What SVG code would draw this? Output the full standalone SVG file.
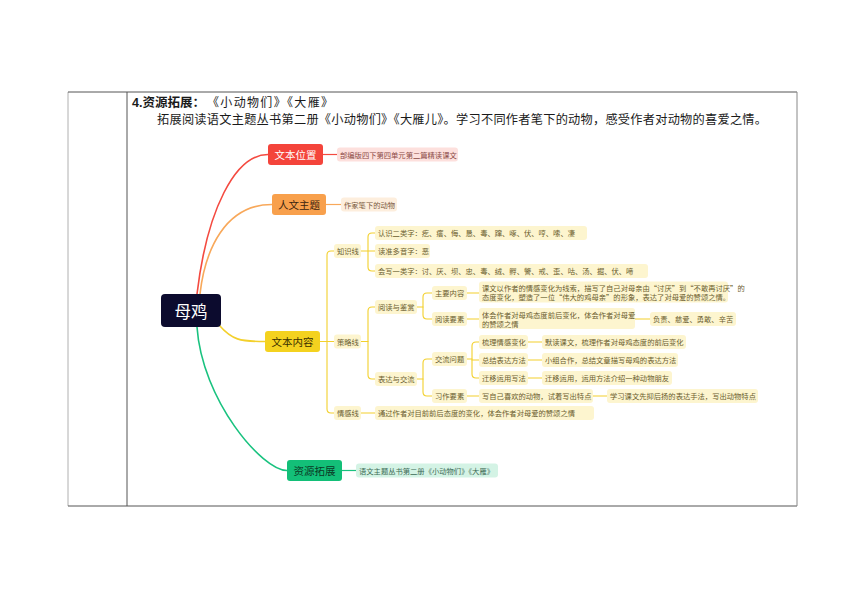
<svg xmlns="http://www.w3.org/2000/svg" width="860" height="608" viewBox="0 0 860 608">
<style>
  .hd{font-family:"Liberation Serif","Noto Sans CJK SC",serif;fill:#1a1a1a}
  .nd{font-family:"Noto Sans CJK SC","Noto Sans",sans-serif;font-size:10.5px;text-anchor:middle;dominant-baseline:central}
  .pt{font-family:"Noto Sans CJK SC","Noto Sans",sans-serif;font-size:7.3px;dominant-baseline:central;fill:#6b5d2e}
  .py{fill:#fdf5cf}
  .ly{fill:none;stroke:#f3d02c;stroke-width:1.1;stroke-linecap:round;stroke-linejoin:round}
  .main{fill:none;stroke-width:1.6;stroke-linecap:round}
</style>
<rect width="860" height="608" fill="#ffffff"/>

<g id="table" fill="none" stroke-width="1">
  <line x1="68" y1="92" x2="68" y2="506" stroke="#b0b0b0"/>
  <line x1="68" y1="92" x2="797" y2="92" stroke="#555"/>
  <line x1="68" y1="506" x2="797" y2="506" stroke="#555"/>
  <line x1="127" y1="92" x2="127" y2="506" stroke="#555"/>
  <line x1="797" y1="92" x2="797" y2="506" stroke="#888"/>
</g>

<g id="header">
  <text class="hd" x="132" y="107" font-size="12.5"><tspan font-weight="bold" font-family="Liberation Sans,Noto Sans CJK SC,sans-serif">4.资源拓展：</tspan><tspan x="207" font-size="12" textLength="126" lengthAdjust="spacing">《小动物们》《大雁》</tspan></text>
  <text class="hd" x="157" y="124" font-size="12.2" textLength="610" lengthAdjust="spacing">拓展阅读语文主题丛书第二册《小动物们》《大雁儿》。学习不同作者笔下的动物，感受作者对动物的喜爱之情。</text>
</g>

<g id="connectors">
  <path class="main" stroke="#f44a40" d="M197,294 C207,210 235,154.5 268,154.5"/>
  <path class="main" stroke="#f8a85a" d="M200,294 C205,250 225,204.5 272,204.5"/>
  <path class="main" stroke="#f3d02c" d="M219,325 C232,340 240,341.5 265,341.5"/>
  <path class="main" stroke="#19c27f" d="M197,327 C202,400 262,470.5 287,470.5"/>
  <path fill="none" stroke="#f44a40" stroke-width="1.2" d="M323,154.5 H337"/>
  <path fill="none" stroke="#f8a85a" stroke-width="1.2" d="M326,204.5 H341"/>
  <path fill="none" stroke="#19c27f" stroke-width="1.2" d="M342,470.5 H356"/>
  <path class="ly" d="M320,341.5 H334"/>
  <path class="ly" d="M334,251 H331 Q327,251 327,255 V409 Q327,413 331,413 H334"/>
  <path class="ly" d="M361,251 H375"/>
  <path class="ly" d="M375,233 H372 Q368,233 368,237 V267 Q368,271 372,271 H375"/>
  <path class="ly" d="M361,341.5 H368"/>
  <path class="ly" d="M375,307 H372 Q368,307 368,311 V375 Q368,379 372,379 H375"/>
  <path class="ly" d="M417,307 H423"/>
  <path class="ly" d="M432,293 H427 Q423,293 423,297 V315 Q423,319 427,319 H432"/>
  <path class="ly" d="M467,293 H479"/>
  <path class="ly" d="M467,319 H479"/>
  <path class="ly" d="M635,319 H650"/>
  <path class="ly" d="M417,379 H423"/>
  <path class="ly" d="M432,359 H427 Q423,359 423,363 V392 Q423,396 427,396 H432"/>
  <path class="ly" d="M467,359 H472"/>
  <path class="ly" d="M479,342 H476 Q472,342 472,346 V374 Q472,378 476,378 H479"/>
  <path class="ly" d="M472,360 H479"/>
  <path class="ly" d="M528,342 H542"/>
  <path class="ly" d="M528,360 H542"/>
  <path class="ly" d="M528,378 H542"/>
  <path class="ly" d="M467,396 H479"/>
  <path class="ly" d="M593,396 H607"/>
  <path class="ly" d="M361,413 H375"/>
</g>

<g id="n-root">
  <rect x="161" y="294" width="60" height="33" rx="4" fill="#0c0b2e"/>
  <text class="nd" x="191" y="310.5" style="font-size:16.5px;fill:#ffffff">母鸡</text>
</g>

<g id="n-position">
  <rect x="268" y="144" width="55" height="21" rx="3" fill="#f4443b"/>
  <text class="nd" x="295.5" y="154.5" style="fill:#ffffff">文本位置</text>
  <rect x="337" y="147.5" width="121" height="14" rx="3" fill="#fde0dd"/>
  <text class="pt" x="340" y="154.5" style="fill:#8b4a45">部编版四下第四单元第二篇精读课文</text>
</g>

<g id="n-theme">
  <rect x="272" y="194" width="54" height="21" rx="3" fill="#f8a04c"/>
  <text class="nd" x="299" y="204.5" style="fill:#3b2410">人文主题</text>
  <rect x="341" y="197.5" width="56" height="14" rx="3" fill="#fdeedd"/>
  <text class="pt" x="344" y="204.5" style="fill:#7a5a3e">作家笔下的动物</text>
</g>

<g id="n-content">
  <rect x="265" y="331" width="55" height="21" rx="3" fill="#f4d21f"/>
  <text class="nd" x="292.5" y="341.5" style="fill:#3a3000">文本内容</text>
</g>

<g id="n-knowledge">
  <rect class="py" x="334" y="244" width="27" height="14" rx="3"/>
  <text class="pt" x="337" y="251">知识线</text>
  <rect class="py" x="375" y="226" width="212" height="14" rx="3"/>
  <text class="pt" x="378" y="233">认识二类字：疙、瘩、侮、恳、毒、蹿、啄、伏、哼、嗦、凄</text>
  <rect class="py" x="375" y="244" width="55" height="14" rx="3"/>
  <text class="pt" x="378" y="251">读准多音字：恶</text>
  <rect class="py" x="375" y="264" width="273" height="14" rx="3"/>
  <text class="pt" x="378" y="271">会写一类字：讨、厌、坝、忠、毒、绒、孵、警、戒、歪、咕、汤、掘、伏、啼</text>
</g>

<g id="n-strategy">
  <rect class="py" x="334" y="334.5" width="27" height="14" rx="3"/>
  <text class="pt" x="337" y="341.5">策略线</text>
</g>

<g id="n-reading">
  <rect class="py" x="375" y="300" width="42" height="14" rx="3"/>
  <text class="pt" x="378" y="307">阅读与鉴赏</text>
  <rect class="py" x="432" y="286" width="35" height="14" rx="3"/>
  <text class="pt" x="435" y="293">主要内容</text>
  <rect class="py" x="479" y="281.5" width="249" height="21" rx="3"/>
  <text class="pt" x="482" y="288">课文以作者的情感变化为线索，描写了自己对母亲由“讨厌”到“不敢再讨厌”的</text>
  <text class="pt" x="482" y="297">态度变化，塑造了一位“伟大的鸡母亲”的形象，表达了对母爱的赞颂之情。</text>
  <rect class="py" x="432" y="312" width="35" height="14" rx="3"/>
  <text class="pt" x="435" y="319">阅读要素</text>
  <rect class="py" x="479" y="308" width="156" height="21" rx="3"/>
  <text class="pt" x="482" y="314.5">体会作者对母鸡态度前后变化，体会作者对母爱</text>
  <text class="pt" x="482" y="323.5">的赞颂之情</text>
  <rect class="py" x="650" y="312" width="86" height="14" rx="3"/>
  <text class="pt" x="653" y="319">负责、慈爱、勇敢、辛苦</text>
</g>

<g id="n-expression">
  <rect class="py" x="375" y="372" width="42" height="14" rx="3"/>
  <text class="pt" x="378" y="379">表达与交流</text>
  <rect class="py" x="432" y="352" width="35" height="14" rx="3"/>
  <text class="pt" x="435" y="359">交流问题</text>
  <rect class="py" x="479" y="335" width="49" height="14" rx="3"/>
  <text class="pt" x="482" y="342">梳理情感变化</text>
  <rect class="py" x="479" y="353" width="49" height="14" rx="3"/>
  <text class="pt" x="482" y="360">总结表达方法</text>
  <rect class="py" x="479" y="371" width="49" height="14" rx="3"/>
  <text class="pt" x="482" y="378">迁移运用写法</text>
  <rect class="py" x="542" y="335" width="144" height="14" rx="3"/>
  <text class="pt" x="545" y="342">默读课文，梳理作者对母鸡态度的前后变化</text>
  <rect class="py" x="542" y="353" width="136" height="14" rx="3"/>
  <text class="pt" x="545" y="360">小组合作，总结文章描写母鸡的表达方法</text>
  <rect class="py" x="542" y="371" width="130" height="14" rx="3"/>
  <text class="pt" x="545" y="378">迁移运用，运用方法介绍一种动物朋友</text>
  <rect class="py" x="432" y="389" width="35" height="14" rx="3"/>
  <text class="pt" x="435" y="396">习作要素</text>
  <rect class="py" x="479" y="389" width="114" height="14" rx="3"/>
  <text class="pt" x="482" y="396">写自己喜欢的动物，试着写出特点</text>
  <rect class="py" x="607" y="389" width="151" height="14" rx="3"/>
  <text class="pt" x="610" y="396">学习课文先抑后扬的表达手法，写出动物特点</text>
</g>

<g id="n-emotion">
  <rect class="py" x="334" y="406" width="27" height="14" rx="3"/>
  <text class="pt" x="337" y="413">情感线</text>
  <rect class="py" x="375" y="406" width="219" height="14" rx="3"/>
  <text class="pt" x="378" y="413">通过作者对目前前后态度的变化，体会作者对母爱的赞颂之情</text>
</g>

<g id="n-resource">
  <rect x="287" y="460" width="55" height="21" rx="3" fill="#13bf78"/>
  <text class="nd" x="314.5" y="470.5" style="fill:#0b3a26">资源拓展</text>
  <rect x="356" y="463.5" width="142" height="14" rx="3" fill="#d4f3e5"/>
  <text class="pt" x="359" y="470.5" style="fill:#3d6b55">语文主题丛书第二册《小动物们》《大雁》</text>
</g>
</svg>
